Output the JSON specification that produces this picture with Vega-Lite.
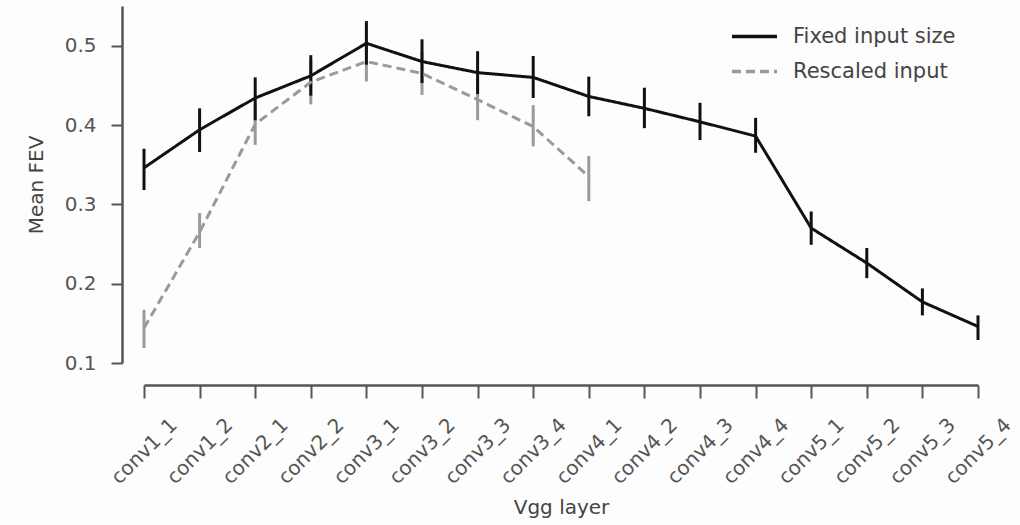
{
  "$schema": "https://vega.github.io/schema/vega-lite/v6.json",
  "width": 834,
  "height": 357,
  "autosize": {"type": "none"},
  "padding": {"left": 144, "top": 6, "right": 42, "bottom": 162},
  "background": "#fdfdfd",
  "config": {
    "font": "DejaVu Sans",
    "view": {"stroke": null}
  },
  "data": {"values": [
    {"layer": "conv1_1", "series": "Fixed input size", "mean": 0.346, "lo": 0.318, "hi": 0.370},
    {"layer": "conv1_2", "series": "Fixed input size", "mean": 0.394, "lo": 0.366, "hi": 0.421},
    {"layer": "conv2_1", "series": "Fixed input size", "mean": 0.434, "lo": 0.406, "hi": 0.460},
    {"layer": "conv2_2", "series": "Fixed input size", "mean": 0.462, "lo": 0.437, "hi": 0.488},
    {"layer": "conv3_1", "series": "Fixed input size", "mean": 0.503, "lo": 0.476, "hi": 0.531},
    {"layer": "conv3_2", "series": "Fixed input size", "mean": 0.480, "lo": 0.453, "hi": 0.508},
    {"layer": "conv3_3", "series": "Fixed input size", "mean": 0.466, "lo": 0.439, "hi": 0.493},
    {"layer": "conv3_4", "series": "Fixed input size", "mean": 0.460, "lo": 0.434, "hi": 0.487},
    {"layer": "conv4_1", "series": "Fixed input size", "mean": 0.436, "lo": 0.411, "hi": 0.461},
    {"layer": "conv4_2", "series": "Fixed input size", "mean": 0.421, "lo": 0.396, "hi": 0.447},
    {"layer": "conv4_3", "series": "Fixed input size", "mean": 0.404, "lo": 0.381, "hi": 0.428},
    {"layer": "conv4_4", "series": "Fixed input size", "mean": 0.386, "lo": 0.365, "hi": 0.409},
    {"layer": "conv5_1", "series": "Fixed input size", "mean": 0.270, "lo": 0.249, "hi": 0.291},
    {"layer": "conv5_2", "series": "Fixed input size", "mean": 0.226, "lo": 0.207, "hi": 0.245},
    {"layer": "conv5_3", "series": "Fixed input size", "mean": 0.177, "lo": 0.160, "hi": 0.194},
    {"layer": "conv5_4", "series": "Fixed input size", "mean": 0.146, "lo": 0.129, "hi": 0.160},
    {"layer": "conv1_1", "series": "Rescaled input", "mean": 0.144, "lo": 0.119, "hi": 0.167},
    {"layer": "conv1_2", "series": "Rescaled input", "mean": 0.265, "lo": 0.245, "hi": 0.289},
    {"layer": "conv2_1", "series": "Rescaled input", "mean": 0.401, "lo": 0.375, "hi": 0.426},
    {"layer": "conv2_2", "series": "Rescaled input", "mean": 0.454, "lo": 0.426, "hi": 0.481},
    {"layer": "conv3_1", "series": "Rescaled input", "mean": 0.480, "lo": 0.455, "hi": 0.506},
    {"layer": "conv3_2", "series": "Rescaled input", "mean": 0.465, "lo": 0.438, "hi": 0.492},
    {"layer": "conv3_3", "series": "Rescaled input", "mean": 0.432, "lo": 0.406, "hi": 0.459},
    {"layer": "conv3_4", "series": "Rescaled input", "mean": 0.398, "lo": 0.373, "hi": 0.425},
    {"layer": "conv4_1", "series": "Rescaled input", "mean": 0.335, "lo": 0.304, "hi": 0.361}
  ]},
  "encoding": {
    "x": {"field": "layer", "type": "ordinal", "sort": null,
      "scale": {"type": "point", "padding": 0},
      "axis": {"title": "Vgg layer", "offset": 22, "labelAngle": -45, "labelAlign": "center", "labelBaseline": "middle", "labelPadding": 53, "labelOverlap": false,
        "labelFontSize": 20, "labelColor": "#555", "titleFontSize": 20, "titleColor": "#444", "titleFontWeight": "normal", "titleY": 112,
        "domainColor": "#555", "domainWidth": 2.5, "tickColor": "#555", "tickWidth": 2, "tickSize": 13, "grid": false}},
    "y": {"field": "mean", "type": "quantitative",
      "scale": {"domain": [0.1, 0.55], "nice": false, "zero": false},
      "axis": {"title": "Mean FEV", "offset": 22, "values": [0.1, 0.2, 0.3, 0.4, 0.5], "format": ".1f", "labelPadding": 15,
        "labelFontSize": 20, "labelColor": "#555", "titleFontSize": 20, "titleColor": "#444", "titleFontWeight": "normal", "titlePadding": 18,
        "domainColor": "#555", "domainWidth": 2.5, "tickColor": "#555", "tickWidth": 2, "tickSize": 11, "grid": false}}
  },
  "layer": [
    {
      "transform": [{"filter": "datum.series == 'Rescaled input'"}],
      "mark": {"type": "rule", "color": "#9a9a9a", "strokeWidth": 3},
      "encoding": {"y": {"field": "lo", "type": "quantitative"}, "y2": {"field": "hi"}}
    },
    {
      "transform": [{"filter": "datum.series == 'Fixed input size'"}],
      "mark": {"type": "rule", "color": "#111", "strokeWidth": 3},
      "encoding": {"y": {"field": "lo", "type": "quantitative"}, "y2": {"field": "hi"}}
    },
    {
      "mark": {"type": "line", "strokeWidth": 3},
      "encoding": {
        "color": {"field": "series", "type": "nominal",
          "scale": {"domain": ["Fixed input size", "Rescaled input"], "range": ["#111111", "#9a9a9a"]},
          "legend": {"title": null, "orient": "none", "legendX": 586, "legendY": 6, "symbolType": "stroke", "symbolSize": 2025, "symbolStrokeWidth": 3.5, "labelFontSize": 21, "labelColor": "#444", "labelLimit": 400, "rowPadding": -10, "labelOffset": 14}},
        "strokeDash": {"field": "series", "type": "nominal",
          "scale": {"domain": ["Fixed input size", "Rescaled input"], "range": [[1, 0], [9, 5]]},
          "legend": null}
      }
    }
  ]
}
